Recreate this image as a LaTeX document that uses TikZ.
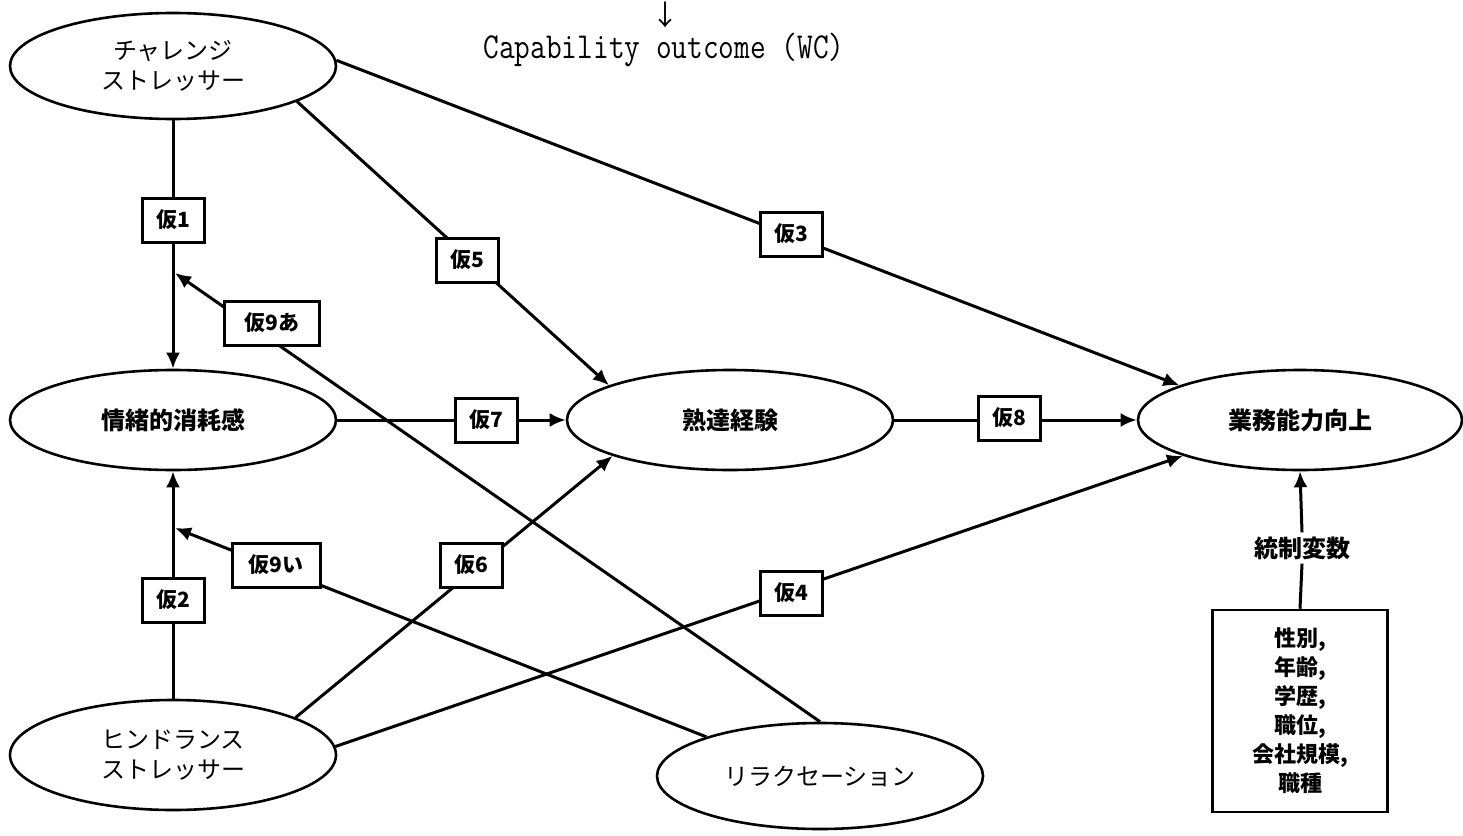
\documentclass[tikz,border=0pt]{standalone}
\usepackage{fontspec}
\usepackage{graphicx}
\usetikzlibrary{shapes.geometric,arrows.meta}
\newfontfamily\jp{Noto Sans CJK JP}
\tikzset{
  ell/.style={ellipse,draw,line width=2.6pt,minimum width=326pt,minimum height=100pt,inner sep=0pt,
    font=\jp\fontsize{24}{30}\selectfont,align=center},
  ellb/.style={ell,font=\jp\bfseries\fontsize{24}{30}\selectfont},
  hyp/.style={rectangle,draw,line width=3pt,fill=white,minimum width=62pt,minimum height=44pt,
    inner sep=2pt,font=\jp\bfseries\fontsize{21}{24}\selectfont},
  conn/.style={line width=3pt},
  arr/.style={conn,-{Latex[length=16pt,width=14pt]}},
}
\begin{document}
\begin{tikzpicture}[x=1pt,y=-1pt]
\useasboundingbox (0,0) rectangle (1463,835);
% top stray text
\node[font=\jp\fontsize{28}{28}\selectfont,inner sep=0pt] (darr) at (665,15) {↓};
\node[font=\ttfamily\fontsize{30.5}{30}\selectfont,inner sep=0pt] (cap) at (664,50)
  {\scalebox{1}[1.2]{Capability outcome (WC)}};
% ellipses
\node[ell,minimum height=106pt] (ch) at (173,66) {チャレンジ\\ストレッサー};
\node[ellb] (ex) at (173,420) {情緒的消耗感};
\node[ell,minimum height=110pt] (hi) at (173,755) {ヒンドランス\\ストレッサー};
\node[ellb] (ms) at (730,420) {熟達経験};
\node[ellb,minimum width=324pt] (bz) at (1300,420) {業務能力向上};
\node[ell,minimum height=106pt] (rx) at (820,776) {リラクセーション};
% control variables
\node[draw,line width=2.5pt,minimum width=175pt,minimum height=202pt,inner sep=0pt,
  font=\jp\bfseries\fontsize{22}{29}\selectfont,align=center] (cb) at (1300,711)
  {性別,\\年齢,\\学歴,\\職位,\\会社規模,\\職種};
\node[font=\jp\bfseries\fontsize{24}{24}\selectfont,inner sep=4pt] (cv) at (1302,548) {統制変数};
\coordinate (t9a) at (175,273);
\coordinate (t9i) at (175,528);
% connectors
\draw[arr] (ch.south) -- (ex.north);
\draw[arr] (ch.-16) -- (ms.164);
\draw[arr] (ch.2) -- (bz.164);
\draw[arr] (ex.east) -- (ms.west);
\draw[arr] (ms.east) -- (bz.west);
\draw[arr] (hi.north) -- (ex.south);
\draw[arr] (hi.17) -- (ms.-163);
\draw[arr] (hi.3) -- (bz.-163);
\draw[arr] (rx.north) -- (t9a);
\draw[arr] (rx.161) -- (t9i);
\draw[conn] (cb.north) -- (cv.south);
\draw[arr] (cv.north) -- (bz.south);
% hypothesis labels
\node[hyp] (h1) at (173,220) {仮1};
\node[hyp] (h5) at (467,260) {仮5};
\node[hyp] (h3) at (791,234) {仮3};
\node[hyp,minimum width=95pt] (h9a) at (272,323) {仮9あ};
\node[hyp] (h7) at (486,420) {仮7};
\node[hyp] (h8) at (1009,418) {仮8};
\node[hyp,minimum width=88pt] (h9i) at (276,565) {仮9い};
\node[hyp] (h2) at (173,600) {仮2};
\node[hyp] (h6) at (471,565) {仮6};
\node[hyp] (h4) at (791,593) {仮4};
\end{tikzpicture}
\end{document}
